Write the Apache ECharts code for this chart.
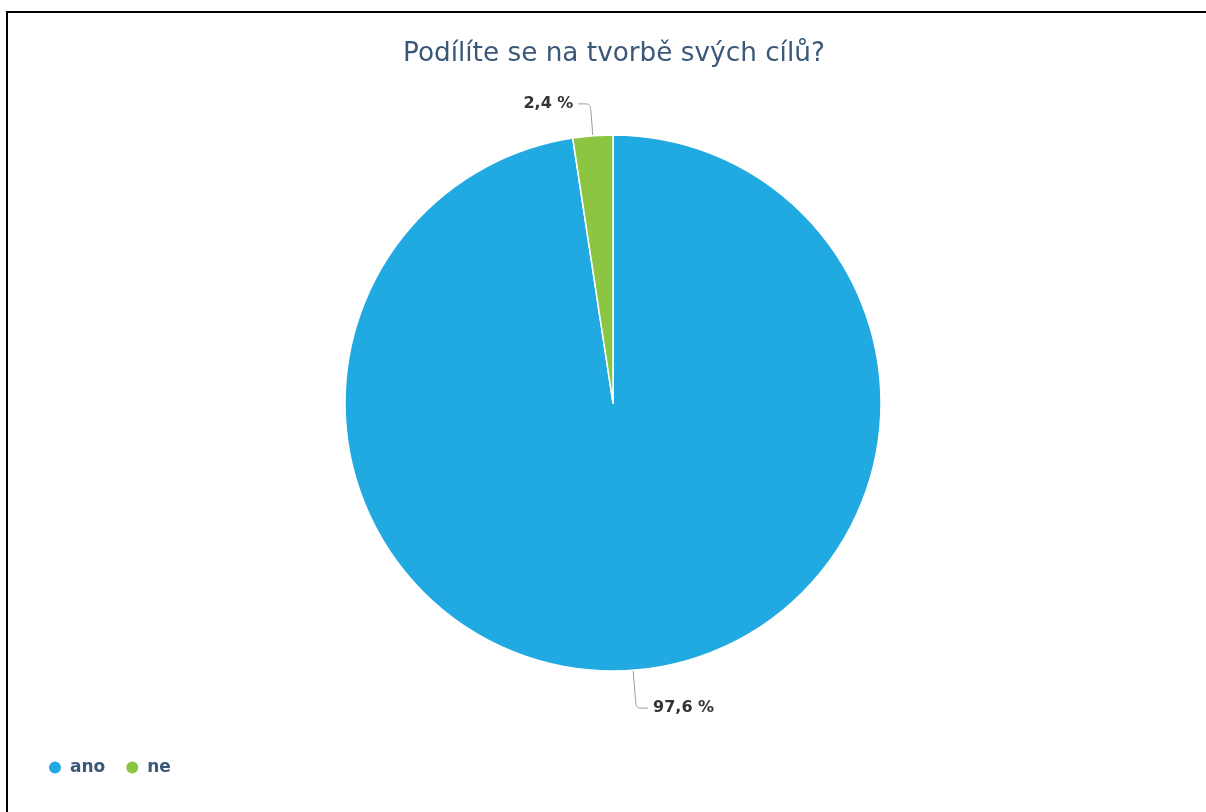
<!DOCTYPE html>
<html>
<head>
<meta charset="utf-8">
<script src="https://cdn.jsdelivr.net/npm/echarts@6/dist/echarts.min.js"></script>
<style>
  html, body { margin: 0; padding: 0; background: #fff; }
  #frame {
    position: absolute; left: 6px; top: 11px; right: 0; bottom: 0;
    border-left: 2px solid #000; border-top: 2px solid #000;
  }
  #chart { position: absolute; left: 0; top: 0; width: 1206px; height: 812px; }
</style>
</head>
<body>
<div id="chart"></div>
<div id="frame"></div>
<script>
// data
const titleText = 'Podílíte se na tvorbě svých cílů?';
const categories = ['ano', 'ne'];
const values = [97.6, 2.4];
const colors = ['#21a9e1', '#8bc541'];
// label line length per slice (bottom label sits a bit lower)
const lineLengths = [38, 32];

const chart = echarts.init(document.getElementById('chart'));
const option = {
  animation: false,
  color: colors,
  title: {
    text: titleText,
    left: 398,
    top: 36,
    textStyle: {
      fontFamily: 'DejaVu Sans',
      fontSize: 26.3,
      fontWeight: 'normal',
      color: '#3b5878'
    }
  },
  legend: {
    left: 42,
    top: 754,
    icon: 'circle',
    itemWidth: 14,
    itemHeight: 14,
    itemGap: 19,
    textStyle: {
      fontFamily: 'DejaVu Sans',
      fontSize: 17,
      fontWeight: 'bold',
      color: '#3b5878',
      padding: [0, 0, 0, 3]
    },
    data: categories
  },
  series: [
    {
      type: 'pie',
      center: [613, 403],
      radius: 268,
      startAngle: 90,
      clockwise: true,
      data: categories.map((c, i) => ({
        name: c,
        value: values[i],
        labelLine: { length: lineLengths[i] }
      })),
      itemStyle: { borderColor: '#fff', borderWidth: 1.5 },
      label: {
        show: true,
        formatter: p => String(p.value).replace('.', ',') + ' %',
        fontFamily: 'DejaVu Sans',
        fontSize: 16,
        fontWeight: 'bold',
        color: '#333'
      },
      labelLine: {
        show: true,
        length: 35,
        length2: 12,
        smooth: 0.2,
        lineStyle: { color: '#999', width: 1 }
      },
      emphasis: { disabled: true }
    }
  ]
};
option && chart.setOption(option);
</script>
</body>
</html>
